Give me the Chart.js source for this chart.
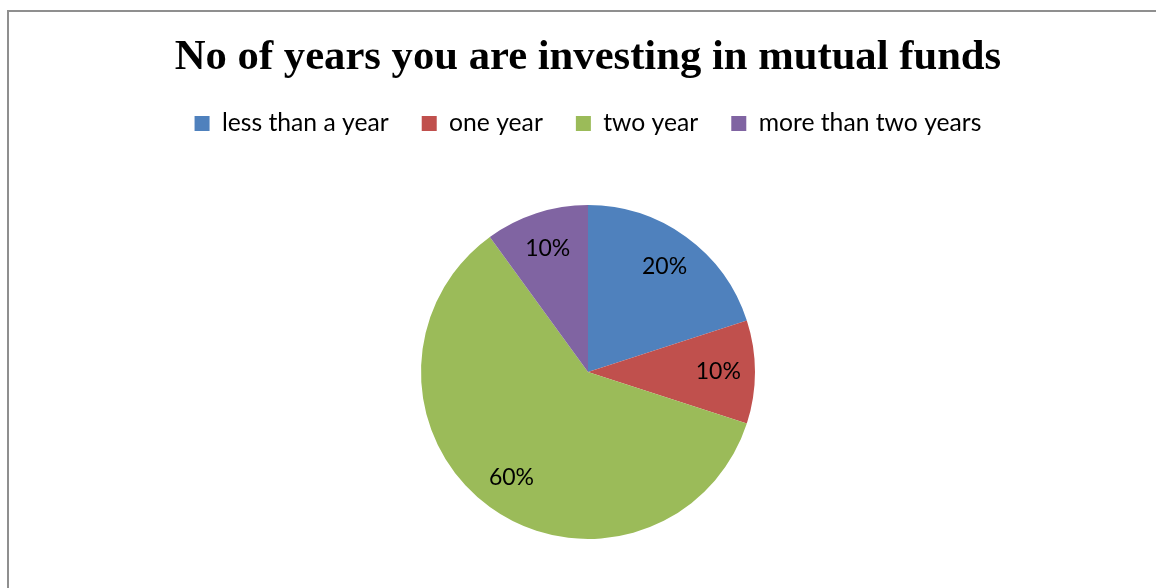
<!DOCTYPE html>
<html>
<head>
<meta charset="utf-8">
<script src="https://cdn.jsdelivr.net/npm/chart.js@4/dist/chart.umd.min.js"></script>
<style>
  html, body { margin: 0; padding: 0; background: #ffffff; overflow: hidden; }
  body { width: 1156px; height: 588px; position: relative; }
  #frame {
    position: absolute; left: 7px; top: 10px;
    width: 1200px; height: 640px;
    border: 2px solid #8f8f8f; box-sizing: border-box;
  }
  #wrap { position: absolute; left: 0; top: 0; width: 1156px; height: 588px; }
</style>
</head>
<body>
<div id="frame"></div>
<div id="wrap"><canvas id="chart" width="1156" height="588"></canvas></div>
<script>
// Share of investors by how long they have held mutual funds
const chartTitle = 'No of years you are investing in mutual funds';
const categories = ['less than a year', 'one year', 'two year', 'more than two years'];
const shares = [20, 10, 60, 10];
const sliceColors = ['#4F81BD', '#C0504D', '#9BBB59', '#8064A2'];

const LABEL_FONT = 'Lato';

// Writes each slice's percentage inside the slice, along its middle angle
const sliceLabels = {
  id: 'sliceLabels',
  afterDatasetsDraw(chart) {
    const ctx = chart.ctx;
    const meta = chart.getDatasetMeta(0);
    const values = chart.data.datasets[0].data;
    ctx.save();
    ctx.font = '23px ' + LABEL_FONT;
    ctx.fillStyle = '#000000';
    ctx.textAlign = 'center';
    ctx.textBaseline = 'middle';
    meta.data.forEach((arc, i) => {
      const p = arc.getProps(['x', 'y', 'startAngle', 'endAngle', 'outerRadius'], true);
      const mid = (p.startAngle + p.endAngle) / 2;
      const r = p.outerRadius * 0.78;
      ctx.fillText(values[i] + '%', p.x + Math.cos(mid) * r, p.y + Math.sin(mid) * r);
    });
    ctx.restore();
  }
};

new Chart(document.getElementById('chart'), {
  type: 'pie',
  data: {
    labels: categories,
    datasets: [{
      data: shares,
      backgroundColor: sliceColors,
      borderWidth: 0
    }]
  },
  plugins: [sliceLabels],
  options: {
    responsive: false,
    animation: false,
    events: [],
    layout: { padding: { top: 0, left: 20, right: 0, bottom: 49 } },
    plugins: {
      title: {
        display: true,
        text: chartTitle,
        color: '#000000',
        font: { family: 'Liberation Serif', size: 42.67, weight: 'bold', lineHeight: 0.75 },
        padding: { top: 41.6, bottom: 4.5 }
      },
      legend: {
        display: true,
        position: 'top',
        labels: {
          color: '#000000',
          font: { family: LABEL_FONT, size: 24.7 },
          boxWidth: 15,
          boxHeight: 15,
          padding: 33
        }
      },
      // blank spacer between the legend row and the pie
      subtitle: {
        display: true,
        text: '',
        weight: 500,
        font: { size: 10, lineHeight: 1 },
        padding: { top: 0, bottom: 49.2 }
      },
      tooltip: { enabled: false }
    }
  }
});
</script>
</body>
</html>
